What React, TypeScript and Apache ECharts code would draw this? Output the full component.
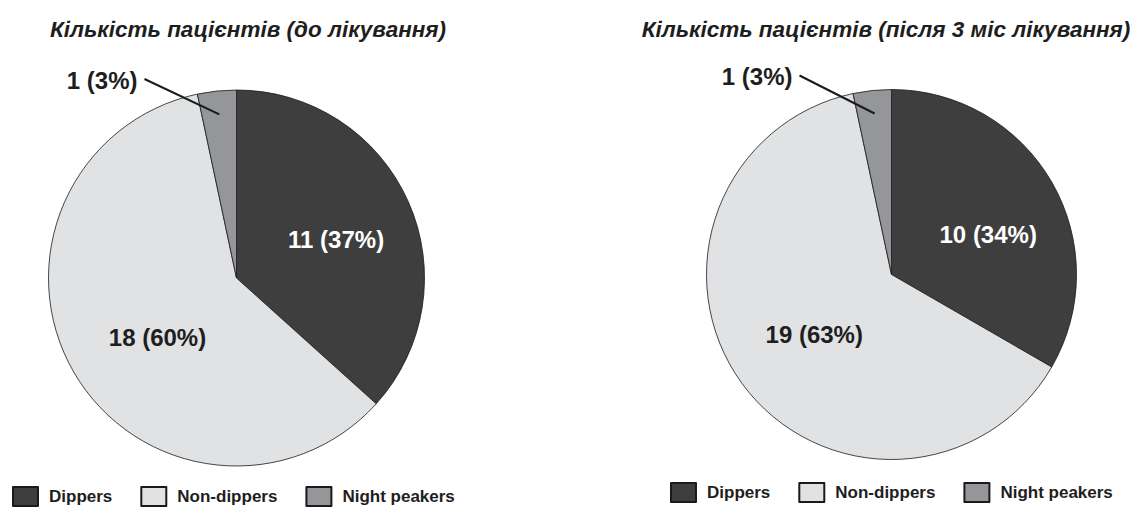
import React, { useEffect, useRef } from "react";
import * as echarts from "echarts";

const categories = ["Dippers", "Non-dippers", "Night peakers"];
const beforeCounts = [11, 18, 1];
const beforePct = [37, 60, 3];
const afterCounts = [10, 19, 1];
const afterPct = [34, 63, 3];
const titles = ["Кількість пацієнтів (до лікування)", "Кількість пацієнтів (після 3 міс лікування)"];

const COLORS = ["#3e3e3e", "#e1e2e4", "#95969a"];
const FONT = "'Liberation Sans', Arial, Helvetica, sans-serif";

const PIES = [
  { cx: 236.5, cy: 278, r: 188, counts: beforeCounts, pct: beforePct, title: titles[0], titleX: 248, legendX: 12, legendY: 486 },
  { cx: 891.5, cy: 274.5, r: 185, counts: afterCounts, pct: afterPct, title: titles[1], titleX: 886, legendX: 670, legendY: 482 },
];

export default function App() {
  const ref = useRef<HTMLDivElement>(null);
  useEffect(() => {
    if (!ref.current) return;
    const chart = echarts.init(ref.current, undefined, { renderer: "svg" });

    const series = PIES.map((p, si) => ({
      type: "pie",
      center: [p.cx, p.cy],
      radius: [0, p.r],
      startAngle: 90,
      clockwise: true,
      avoidLabelOverlap: false,
      emphasis: { disabled: true },
      labelLine: { show: false },
      itemStyle: { borderColor: "#1a1a1a", borderWidth: 0.8 },
      data: categories.map((name, i) => ({
        name,
        value: p.counts[i],
        itemStyle: { color: COLORS[i] },
        label: {
          show: true,
          position: i === 2 ? "outside" : "inside",
          formatter: `${p.counts[i]} (${p.pct[i]}%)`,
          color: i === 0 ? "#ffffff" : "#1e1e1e",
          fontFamily: FONT,
          fontWeight: "bold",
          fontSize: 24,
        },
      })),
      labelLayout: (params: any) => {
        const di = params.dataIndex;
        if (di === 2) {
          return { x: p.cx - 99, y: p.cy - 198, align: "right", verticalAlign: "middle" };
        }
        if (di === 0) return { dx: si === 0 ? 11 : 14, dy: si === 0 ? 1 : 8 };
        return { dx: si === 0 ? 5 : 0, dy: si === 0 ? 11 : 4 };
      },
    }));

    // leader lines for the small slice, derived from pie geometry and data
    const graphics: any[] = PIES.map((p) => {
      const total = p.counts.reduce((a, b) => a + b, 0);
      const startFrac = (p.counts[0] + p.counts[1]) / total;
      const midFrac = startFrac + p.counts[2] / total / 2;
      const ang = midFrac * 2 * Math.PI; // clockwise from top
      const rr = p.r * 0.875;
      const x1 = p.cx + rr * Math.sin(ang);
      const y1 = p.cy - rr * Math.cos(ang);
      return {
        type: "line",
        shape: { x1, y1, x2: p.cx - 92, y2: p.cy - 199 },
        style: { stroke: "#1a1a1a", lineWidth: 2 },
        z: 100,
      };
    });

    chart.setOption({
      animation: false,
      backgroundColor: "#ffffff",
      title: PIES.map((p) => ({
        text: p.title,
        left: p.titleX,
        top: 18,
        padding: 0,
        textAlign: "center",
        textStyle: { fontFamily: FONT, fontSize: 22.5, fontWeight: "bold", fontStyle: "italic", color: "#1e1e1e" },
      })),
      legend: PIES.map((p) => ({
        data: categories,
        left: p.legendX,
        top: p.legendY,
        padding: 0,
        itemWidth: 25,
        itemHeight: 19,
        itemGap: 28,
        icon: "rect",
        selectedMode: false,
        textStyle: { fontFamily: FONT, fontSize: 17, fontWeight: "bold", color: "#1e1e1e", padding: [0, 0, 0, 6] },
      })),
      series,
      graphic: graphics,
    });
    return () => chart.dispose();
  }, []);
  return <div ref={ref} style={{ position: "fixed", left: 0, top: 0, width: 1135, height: 507, background: "#fff" }} />;
}
